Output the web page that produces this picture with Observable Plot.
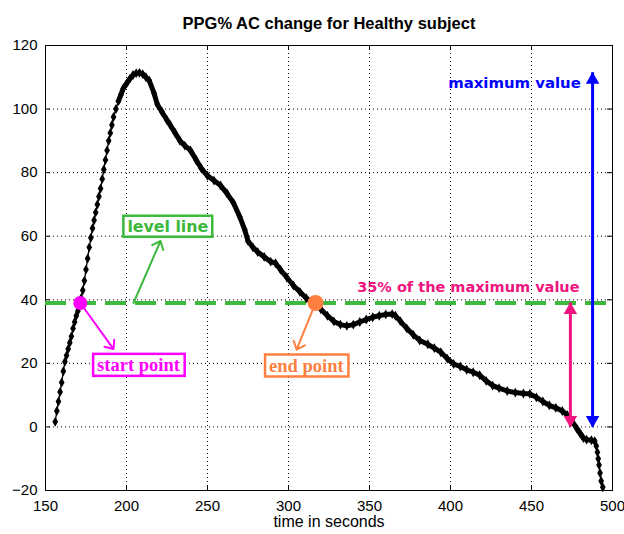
<!DOCTYPE html>
<html>
<head>
<meta charset="utf-8">
<script src="https://cdn.jsdelivr.net/npm/d3@7"></script>
<script src="https://cdn.jsdelivr.net/npm/@observablehq/plot@0.6"></script>
<style>
  body { margin: 0; background: #fff; }
</style>
</head>
<body>
<div id="chart"></div>
<script>
// PPG % AC change over time for a healthy subject
const seconds = [
  156, 157, 158, 159, 160, 161, 162, 163, 164, 165, 166, 167, 168, 169,
  170, 171, 172, 173, 174, 175, 176, 177, 178, 179, 180, 181, 182,
  183, 184, 185, 186, 187, 188, 189, 190, 191, 192, 193.5, 195, 196.5, 198,
  200, 202, 204, 206, 208, 210, 212, 214,
  217, 219, 222, 225, 227, 230, 233, 236, 239.5, 243, 246, 250, 254, 258, 262,
  266, 270, 273, 275, 278, 281, 285, 289, 292, 295, 299, 303, 307, 311, 314, 317,
  320, 324, 328, 332, 336, 340, 344, 348, 352, 356, 360, 364, 366, 369,
  373, 377, 381, 386, 390, 394, 398, 402, 406, 410, 414, 418, 422, 426, 430,
  435, 440, 445, 449, 453, 457, 461, 465, 469, 472, 475, 478, 480, 482, 484, 487,
  489, 490, 490.7, 491.2, 491.7, 492.3, 493, 494
];
const acChange = [
  1.6, 5, 8, 11, 14, 17.5, 20.5, 22.5, 24.5, 26.5, 28.5, 31, 33, 35,
  36.5, 38.2, 40.5, 43, 46, 49.5, 53, 56.5, 59.5, 62.5, 65, 67.5, 70,
  72.5, 75, 78, 81, 84, 87, 90, 92.5, 95, 97.5, 100, 102.5, 104.5, 106.5,
  108, 109.5, 110.7, 111.3, 111.4, 111, 110, 109,
  105, 101.5, 99, 96.5, 95, 92.5, 90, 88.5, 87, 84, 81.5, 79, 77.5, 76, 73.5,
  70.5, 66, 62, 58.5, 56.5, 55, 53.5, 52, 51.5, 49.5, 47, 44.5, 42.5, 40.5, 39.5, 38.5,
  37, 35, 33.2, 32.2, 31.8, 32.2, 33, 33.8, 34.5, 35, 35.4, 35.5, 35, 33.3,
  31, 29, 27.2, 26, 24.8, 23.5, 21.5, 19.8, 19, 18, 17.2, 16.3, 14.5, 13, 12.2,
  11.3, 10.8, 10.5, 10.4, 9.3, 8, 6.8, 6, 5, 3.8, 1.8, -0.5, -2, -3.5, -4, -4.2,
  -4.5, -6, -8, -10, -12, -14.5, -17, -19
];

const xTicks = [150, 200, 250, 300, 350, 400, 450, 500];
const yTicks = [-20, 0, 20, 40, 60, 80, 100, 120];

// crossing times of the level line
const startTime = 171.5;
const endTime = 316.7;
// where the double arrows stand
const rangeArrowTime = 474;
const peakArrowTime = 487.7;

// label texts
const levelText = "level line";
const startText = "start point";
const endText = "end point";
const rangeText = "35% of the maximum value";
const peakText = "maximum value";
const boxedTexts = [levelText, startText, endText];

const series = seconds.map((t, i) => ({t, v: acChange[i]}));
const peakValue = d3.max(acChange);
const levelValue = 0.35 * peakValue;

// the samples are so close together in this stretch that the markers merge into a thick trace
const denseFrom = 195, denseTo = 489;

const W = 624, H = 534;
const M = {top: 45, right: 12, bottom: 44, left: 45};
const frameW = W - M.left - M.right;
const frameH = H - M.top - M.bottom;

const GREEN = "#3cb83c", MAGENTA = "#ff00ff", ORANGE = "#ff7f40",
      PINK = "#f0147f", BLUE = "#0000ff";
const sans = "Liberation Sans, Arial, sans-serif";
const verdana = "DejaVu Sans, Verdana, sans-serif";
const serif = "Liberation Serif, Times New Roman, serif";

const one = [{}];

const chart = Plot.plot({
  width: W,
  height: H,
  marginTop: M.top,
  marginRight: M.right,
  marginBottom: M.bottom,
  marginLeft: M.left,
  style: {fontFamily: sans, fontSize: "15px", background: "#fff", color: "#000"},
  x: {domain: [150, 500], ticks: xTicks},
  y: {domain: [-20, 120], ticks: yTicks},
  marks: [
    // dotted grid
    Plot.ruleX(xTicks, {stroke: "#000", strokeDasharray: "1,3", strokeWidth: 1}),
    Plot.ruleY(yTicks, {stroke: "#000", strokeDasharray: "1,3", strokeWidth: 1}),
    // inward tick marks on all four sides
    Plot.ruleX(xTicks, {stroke: "#000", insetTop: frameH - 5}),
    Plot.ruleX(xTicks, {stroke: "#000", insetBottom: frameH - 5}),
    Plot.ruleY(yTicks, {stroke: "#000", insetRight: frameW - 5}),
    Plot.ruleY(yTicks, {stroke: "#000", insetLeft: frameW - 5}),
    Plot.axisX({ticks: xTicks, tickSize: 0, tickPadding: 10, label: null, fontSize: 15}),
    Plot.axisY({ticks: yTicks, tickSize: 0, tickPadding: 8, label: null, fontSize: 15}),
    Plot.frame({stroke: "#000"}),

    // level line at 35% of the maximum
    Plot.ruleY([levelValue], {stroke: GREEN, strokeWidth: 4, strokeDasharray: "21,9"}),

    // the signal
    Plot.line(series, {x: "t", y: "v", stroke: "#000", strokeWidth: 1.3}),
    Plot.line(series, {filter: d => d.t >= denseFrom && d.t <= denseTo, x: "t", y: "v", stroke: "#000", strokeWidth: 5, strokeLinejoin: "round", strokeLinecap: "round"}),
    Plot.dot(series, {x: "t", y: "v", symbol: "diamond", r: 3, fill: "#000"}),

    // 35% span arrow
    Plot.ruleX([rangeArrowTime], {y1: 0, y2: levelValue, stroke: PINK, strokeWidth: 3}),
    Plot.dot(one, {x: rangeArrowTime, y: levelValue, symbol: "triangle", r: 5, fill: PINK, dy: 7}),
    Plot.dot(one, {x: rangeArrowTime, y: 0, symbol: "triangle", r: 5, fill: PINK, rotate: 180, dy: -7}),

    // maximum span arrow
    Plot.ruleX([peakArrowTime], {y1: 0, y2: peakValue, stroke: BLUE, strokeWidth: 3}),
    Plot.dot(one, {x: peakArrowTime, y: peakValue, symbol: "triangle", r: 5, fill: BLUE, dy: 7}),
    Plot.dot(one, {x: peakArrowTime, y: 0, symbol: "triangle", r: 5, fill: BLUE, rotate: 180, dy: -7}),

    // pointer arrows
    Plot.arrow(one, {x1: 204.3, y1: levelValue, x2: 221, y2: 58.5, stroke: GREEN, strokeWidth: 2, headLength: 7, headAngle: 80}),
    Plot.arrow(one, {x1: startTime, y1: levelValue, x2: 192, y2: 24.5, stroke: MAGENTA, strokeWidth: 2, headLength: 7, headAngle: 80}),
    Plot.arrow(one, {x1: endTime, y1: levelValue, x2: 305, y2: 24.3, stroke: ORANGE, strokeWidth: 2, headLength: 7, headAngle: 80}),

    // crossing points
    Plot.dot(one, {x: startTime, y: levelValue, r: 7, fill: MAGENTA}),
    Plot.dot(one, {x: endTime, y: levelValue, r: 8, fill: ORANGE}),

    // boxed labels
    Plot.text(one, {x: 225.5, y: 63, text: () => levelText, fill: GREEN, fontFamily: verdana, fontWeight: "bold", fontSize: 15.8}),
    Plot.text(one, {x: 207.4, y: 19.5, text: () => startText, fill: MAGENTA, fontFamily: serif, fontWeight: "bold", fontSize: 18.5}),
    Plot.text(one, {x: 311, y: 19.3, text: () => endText, fill: ORANGE, fontFamily: serif, fontWeight: "bold", fontSize: 18.5}),

    // free labels
    Plot.text(one, {x: 411, y: 43.8, text: () => rangeText, fill: PINK, fontFamily: verdana, fontWeight: "bold", fontSize: 14.5}),
    Plot.text(one, {x: 439.5, y: 108, text: () => peakText, fill: BLUE, fontFamily: verdana, fontWeight: "bold", fontSize: 14.9}),

    // title and axis label
    Plot.text(one, {frameAnchor: "top", dy: -28, text: () => "PPG% AC change for Healthy subject", fontFamily: sans, fontWeight: "bold", fontSize: 16.5, fill: "#000"}),
    Plot.text(one, {frameAnchor: "bottom", dy: 36, text: () => "time in seconds", fontFamily: sans, fontSize: 16, fill: "#000"})
  ]
});

document.getElementById("chart").appendChild(chart);

// white boxes outlined in the label colour behind the boxed labels
const ns = "http://www.w3.org/2000/svg";
chart.querySelectorAll("text").forEach(text => {
  if (!boxedTexts.includes(text.textContent)) return;
  const b = text.getBBox();
  const padX = 4, padY = 1;
  const rect = document.createElementNS(ns, "rect");
  rect.setAttribute("x", b.x - padX);
  rect.setAttribute("y", b.y - padY);
  rect.setAttribute("width", b.width + 2 * padX);
  rect.setAttribute("height", b.height + 2 * padY);
  rect.setAttribute("fill", "#fff");
  const color = text.getAttribute("fill") || text.parentNode.getAttribute("fill");
  rect.setAttribute("stroke", color);
  rect.setAttribute("stroke-width", 2.5);
  const tr = text.getAttribute("transform");
  if (tr) rect.setAttribute("transform", tr);
  text.parentNode.insertBefore(rect, text);
});
</script>
</body>
</html>
